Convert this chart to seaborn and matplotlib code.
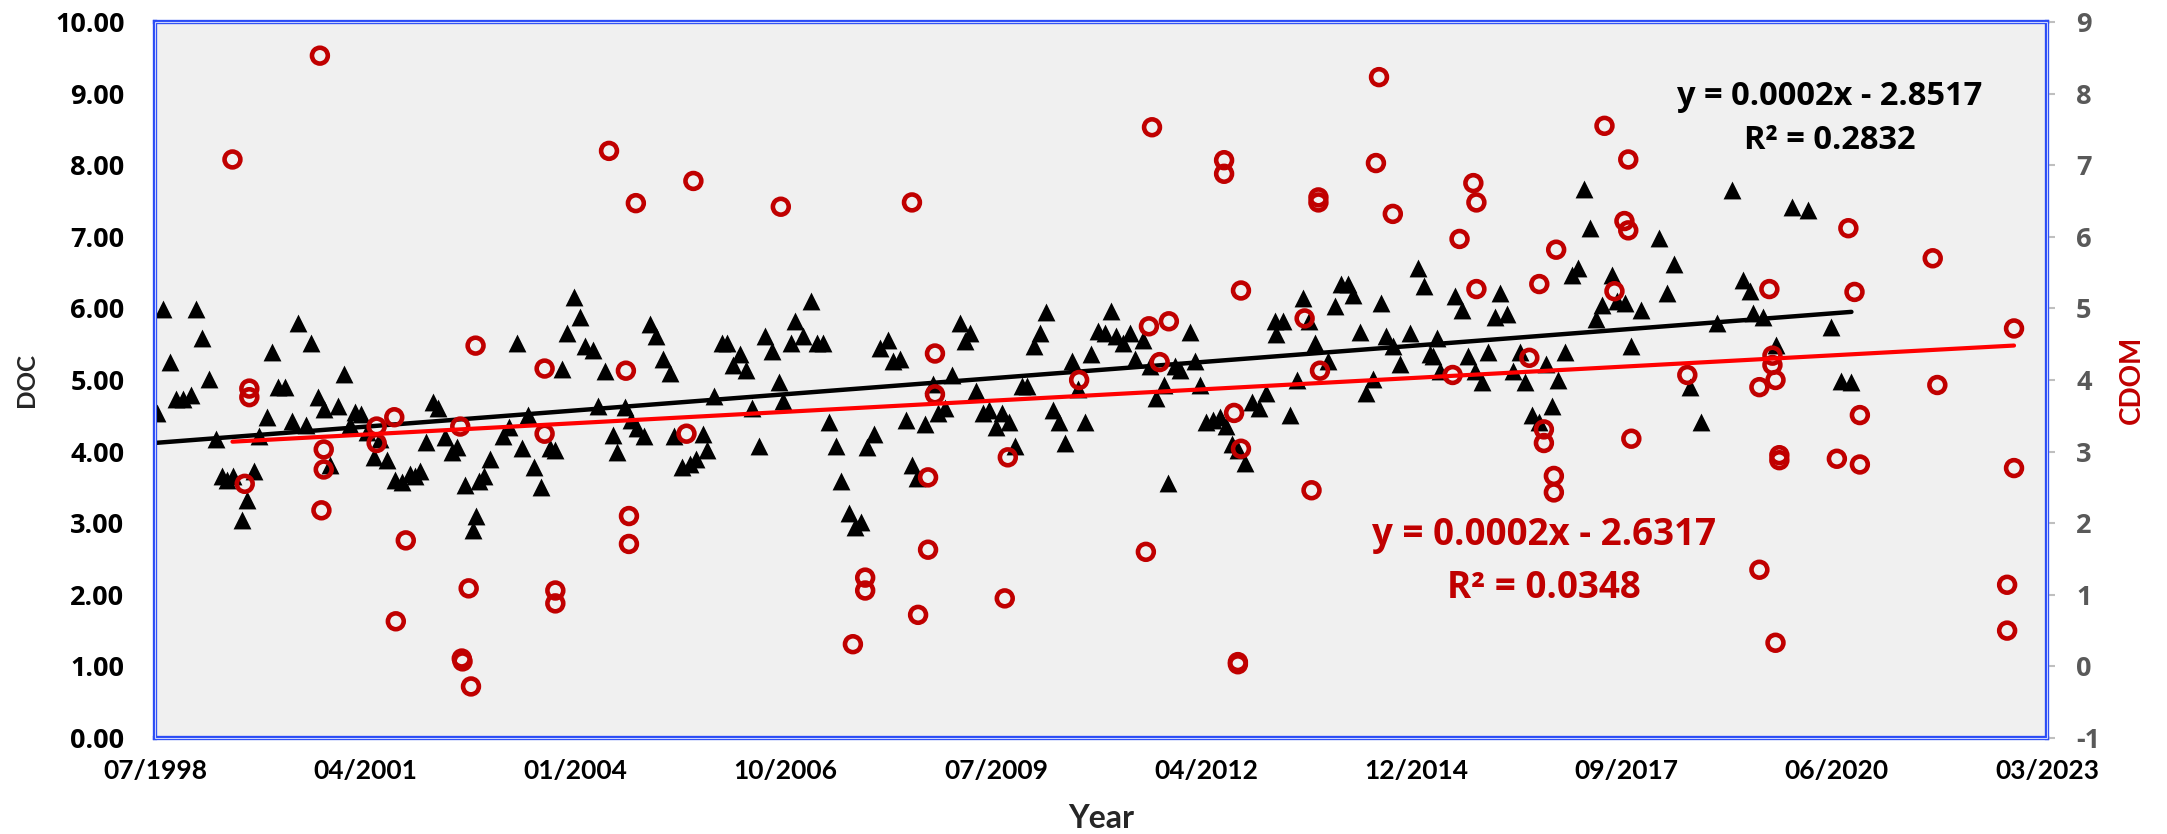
import numpy as np
import pandas as pd
import matplotlib
matplotlib.use("Agg")
import matplotlib.pyplot as plt
import seaborn as sns
from matplotlib import font_manager
from matplotlib.patches import Rectangle

# ---------------------------------------------------------------- data
# DOC samples (decimal year, concentration)
doc_year = [
    1998.52, 1998.61, 1998.70, 1998.78, 1998.87, 1998.97, 1999.03, 1999.11, 1999.21, 1999.29,
    1999.37, 1999.44, 1999.52, 1999.64, 1999.70, 1999.79, 1999.86, 1999.96, 2000.03, 2000.11,
    2000.20, 2000.28, 2000.36, 2000.47, 2000.53, 2000.62, 2000.70, 2000.78, 2000.88, 2000.96,
    2001.04, 2001.11, 2001.19, 2001.26, 2001.36, 2001.43, 2001.53, 2001.63, 2001.72, 2001.82,
    2001.89, 2001.96, 2002.04, 2002.12, 2002.19, 2002.28, 2002.37, 2002.44, 2002.54, 2002.64,
    2002.69, 2002.72,
    2002.79, 2002.87, 2003.04, 2003.12, 2003.22, 2003.29, 2003.37, 2003.44, 2003.53, 2003.65,
    2003.72, 2003.81, 2003.87, 2003.96, 2004.04, 2004.11, 2004.21, 2004.28, 2004.37, 2004.47,
    2004.53, 2004.63, 2004.71, 2004.78, 2004.88, 2004.95, 2005.03, 2005.12, 2005.21, 2005.27,
    2005.37, 2005.47, 2005.56, 2005.65, 2005.70, 2005.79, 2005.89, 2005.96, 2006.04, 2006.13,
    2006.21, 2006.28, 2006.37, 2006.46, 2006.54, 2006.63, 2006.69, 2006.79, 2006.84,
    2006.95, 2007.05, 2007.13, 2007.21, 2007.29, 2007.38, 2007.45, 2007.55, 2007.63, 2007.70,
    2007.79, 2007.87, 2007.95, 2008.06, 2008.12, 2008.21, 2008.29, 2008.37, 2008.43, 2008.54,
    2008.65, 2008.71, 2008.80, 2008.89, 2008.99, 2009.06, 2009.13, 2009.21, 2009.29, 2009.38,
    2009.47, 2009.54, 2009.63, 2009.71, 2009.80, 2009.87, 2009.96, 2010.04, 2010.12, 2010.21,
    2010.29, 2010.37, 2010.46, 2010.54, 2010.62, 2010.71, 2010.80, 2010.89, 2010.96, 2011.03,
    2011.12, 2011.21, 2011.28, 2011.38, 2011.47, 2011.55, 2011.65, 2011.71, 2011.80, 2011.86,
    2012.00, 2012.06, 2012.12, 2012.20, 2012.30, 2012.39, 2012.46, 2012.54, 2012.62, 2012.71,
    2012.80, 2012.90, 2012.99, 2013.10, 2013.12, 2013.21, 2013.30, 2013.39, 2013.47, 2013.55,
    2013.62, 2013.80, 2013.89, 2013.97, 2014.05, 2014.12, 2014.21, 2014.29, 2014.38, 2014.48,
    2014.55, 2014.64, 2014.73, 2014.86, 2014.97, 2015.05, 2015.12, 2015.21,
    2015.17, 2015.25, 2015.45, 2015.54, 2015.62, 2015.71, 2015.80, 2015.88, 2015.97, 2016.04,
    2016.13, 2016.21, 2016.30, 2016.36, 2016.45, 2016.54, 2016.64, 2016.71, 2016.80, 2016.88,
    2016.97, 2017.06, 2017.13, 2017.21, 2017.29, 2017.37, 2017.50, 2017.56, 2017.67, 2017.74,
    2017.88, 2018.11, 2018.21, 2018.30, 2018.51, 2018.66, 2018.87, 2019.06, 2019.21, 2019.34,
    2019.30, 2019.47, 2019.63, 2019.84, 2020.06, 2020.36, 2020.49, 2020.62,
]
doc_value = [
    4.54, 5.99, 5.25, 4.73, 4.73, 4.79, 5.99, 5.59, 5.01, 4.18,
    3.66, 3.61, 3.66, 3.04, 3.33, 3.73, 4.22, 4.49, 5.39, 4.90,
    4.90, 4.43, 5.80, 4.37, 5.52, 4.76, 4.59, 3.81, 4.64, 5.08,
    4.37, 4.56, 4.53, 4.28, 3.92, 4.18, 3.88, 3.61, 3.58, 3.69,
    3.66, 3.73, 4.14, 4.69, 4.61, 4.20, 4.00, 4.07, 3.53, 2.90,
    3.10, 3.59,
    3.66, 3.89, 4.22, 4.35, 5.52, 4.05, 4.51, 3.79, 3.50, 4.05,
    4.02, 5.15, 5.65, 6.16, 5.88, 5.47, 5.42, 4.64, 5.12, 4.23,
    3.99, 4.62, 4.44, 4.33, 4.22, 5.78, 5.62, 5.29, 5.10, 4.22,
    3.79, 3.82, 3.90, 4.25, 4.02, 4.78, 5.52, 5.51, 5.21, 5.36,
    5.14, 4.61, 4.08, 5.61, 5.41, 4.97, 4.71, 5.52, 5.82,
    5.62, 6.11, 5.51, 5.51, 4.41, 4.08, 3.59, 3.14, 2.94, 3.01,
    4.07, 4.25, 5.44, 5.56, 5.27, 5.29, 4.44, 3.81, 3.63, 4.38,
    4.95, 4.54, 4.61, 5.07, 5.80, 5.54, 5.65, 4.84, 4.54, 4.58,
    4.35, 4.54, 4.41, 4.08, 4.92, 4.92, 5.47, 5.65, 5.95, 4.58,
    4.42, 4.12, 5.26, 4.87, 4.42, 5.36, 5.69, 5.65, 5.97, 5.62,
    5.52, 5.65, 5.29, 5.56, 5.20, 4.75, 4.93, 3.56, 5.20, 5.14,
    5.67, 5.27, 4.93, 4.41, 4.44, 4.48, 4.36, 4.10, 4.02, 3.84,
    4.69, 4.61, 4.82, 5.82, 5.64, 5.82, 4.51, 5.00, 6.14, 5.82,
    5.52, 5.26, 6.03, 6.34, 6.34, 6.19, 5.67, 4.82, 5.01, 6.08,
    5.62, 5.47, 5.23, 5.65, 6.57, 6.31, 5.37, 5.59,
    5.33, 5.13, 6.18, 5.98, 5.33, 5.13, 4.97, 5.39, 5.88, 6.21,
    5.92, 5.13, 5.39, 4.97, 4.51, 4.41, 5.23, 4.64, 5.00, 5.39,
    6.47, 6.57, 7.67, 7.12, 5.85, 6.05, 6.47, 6.11, 6.08, 5.47,
    5.98, 6.99, 6.21, 6.62, 4.90, 4.41, 5.80, 7.65, 6.39, 5.94,
    6.24, 5.88, 5.49, 7.42, 7.37, 5.74, 4.99, 4.97,
]

# CDOM samples (decimal year, absorbance)
cdom_year = [
    1999.51, 1999.67, 1999.73, 1999.73, 2000.65, 2000.67, 2000.70, 2000.70, 2001.39, 2001.39,
    2001.62, 2001.64, 2001.77, 2002.48, 2002.50, 2002.51, 2002.59, 2002.62, 2002.68, 2003.58,
    2003.58, 2003.72, 2003.72, 2004.42, 2004.64, 2004.68, 2004.68, 2004.77, 2005.43, 2005.52,
    2006.66, 2007.60, 2007.76, 2007.76, 2008.37, 2008.45, 2008.58, 2008.58, 2008.67, 2008.67,
    2009.58, 2009.62, 2010.55, 2011.42, 2011.46, 2011.50, 2011.60, 2011.72, 2012.44, 2012.44,
    2012.57, 2012.62, 2012.62, 2012.66, 2012.66, 2013.49, 2013.58, 2013.67, 2013.67, 2013.69,
    2014.42, 2014.46, 2014.64, 2015.42, 2015.51, 2015.69, 2015.73, 2015.73, 2016.42, 2016.55,
    2016.61, 2016.61, 2016.74, 2016.74, 2016.77, 2017.40, 2017.53, 2017.66, 2017.71, 2017.71,
    2017.75, 2018.48, 2019.42, 2019.42, 2019.55, 2019.59, 2019.59, 2019.63, 2019.63, 2019.68,
    2019.68, 2020.43, 2020.58, 2020.66, 2020.73, 2020.73, 2021.68, 2021.74, 2022.65, 2022.65,
    2022.74, 2022.74,
]
cdom_value = [
    7.08, 2.55, 3.88, 3.76, 8.53, 2.18, 3.03, 2.75, 3.35, 3.12,
    3.48, 0.63, 1.76, 3.35, 0.11, 0.07, 1.09, -0.28, 4.48, 4.16,
    3.25, 1.06, 0.88, 7.20, 4.13, 2.10, 1.71, 6.47, 3.25, 6.78,
    6.42, 0.31, 1.24, 1.06, 6.48, 0.72, 2.64, 1.63, 4.37, 3.80,
    0.95, 2.92, 4.00, 1.60, 4.75, 7.53, 4.25, 4.82, 7.07, 6.88,
    3.54, 0.06, 0.03, 5.25, 3.04, 4.86, 2.46, 6.55, 6.48, 4.13,
    7.03, 8.23, 6.32, 4.07, 5.97, 6.75, 6.48, 5.27, 4.31, 5.34,
    3.31, 3.12, 2.66, 2.43, 5.82, 7.55, 5.24, 6.22, 7.08, 6.09,
    3.18, 4.07, 3.90, 1.35, 5.27, 4.34, 4.21, 4.00, 0.33, 2.95,
    2.88, 2.90, 6.12, 5.23, 3.51, 2.82, 5.70, 3.93, 1.14, 0.50,
    4.72, 2.77,
]

x_tick_labels = ["07/1998", "04/2001", "01/2004", "10/2006", "07/2009",
                 "04/2012", "12/2014", "09/2017", "06/2020", "03/2023"]
x_start, x_end = 1998.5, 2023.17

doc_fit_text = ["y = 0.0002x - 2.8517", "R\u00b2 = 0.2832"]
cdom_fit_text = ["y = 0.0002x - 2.6317", "R\u00b2 = 0.0348"]

# ---------------------------------------------------------------- style
def pick_font(*names):
    available = {f.name for f in font_manager.fontManager.ttflist}
    for name in names:
        if name in available:
            return name
    return "DejaVu Sans"

num_font = pick_font("Open Sans", "Roboto", "Noto Sans")
label_font = pick_font("Lato", "Open Sans")

sns.set_theme(style="white")
plt.rcParams["font.family"] = [num_font, "DejaVu Sans"]

DARK_RED = "#C00000"
BORDER = "#2A4BF5"

W, H = 2167, 834
fig = plt.figure(figsize=(W / 100, H / 100), dpi=100)
left, right, top, bottom = 155, 2047, 22, 738
ax = fig.add_axes([left / W, 1 - bottom / H, (right - left) / W, (bottom - top) / H])
ax.set_facecolor("#F0F0F0")
ax2 = ax.twinx()
ax2.patch.set_visible(False)

doc_df = pd.DataFrame({"year": doc_year, "DOC": doc_value})
cdom_df = pd.DataFrame({"year": cdom_year, "CDOM": cdom_value})

# DOC: filled black triangles + linear trend
sns.scatterplot(data=doc_df, x="year", y="DOC", marker="^", s=165,
                color="black", linewidth=0, ax=ax, zorder=3, legend=False)
sns.regplot(data=doc_df, x="year", y="DOC", scatter=False, ci=None, truncate=True,
            color="black", line_kws=dict(lw=3.2, zorder=4), ax=ax)

# CDOM: hollow dark-red rings + linear trend on the secondary axis
sns.scatterplot(data=cdom_df, x="year", y="CDOM", marker="o", s=130,
                color=DARK_RED, ax=ax2, zorder=3, legend=False)
rings = ax2.collections[-1]
rings.set_facecolor("none")
rings.set_edgecolor(DARK_RED)
rings.set_linewidth(3.3)
sns.regplot(data=cdom_df, x="year", y="CDOM", scatter=False, ci=None, truncate=True,
            color="#FF0000", line_kws=dict(lw=3.0, zorder=4), ax=ax2)

# ---------------------------------------------------------------- axes
ax.set_xlim(x_start, x_end)
ax.set_xticks(np.linspace(x_start, x_end, len(x_tick_labels)))
ax.set_xticklabels(x_tick_labels, fontfamily=label_font, fontweight="bold", fontsize=19)
ax.set_ylim(0, 10)
doc_ticks = np.arange(0, 11)
ax.set_yticks(doc_ticks)
ax.set_yticklabels([f"{v:.2f}" for v in doc_ticks], fontweight="bold", fontsize=19.5)
ax.tick_params(axis="y", length=0, pad=22, colors="black")
ax.tick_params(axis="x", length=0, pad=15, colors="black")

ax2.set_ylim(-1, 9)
cdom_ticks = np.arange(-1, 10)
ax2.set_yticks(cdom_ticks)
ax2.set_yticklabels([str(v) for v in cdom_ticks], fontweight="bold", fontsize=19.5)
ax2.tick_params(axis="y", length=6, width=1.5, color="#BFBFBF",
                labelcolor="#595959", pad=15, right=True)

ax.set_xlabel("Year", fontfamily=label_font, fontweight="bold", fontsize=23)
ax.xaxis.set_label_coords(0.5, -0.112)
ax.xaxis.label.set_va("center")
ax.set_ylabel("DOC", fontfamily=label_font, fontweight="bold", fontsize=17.5)
ax.yaxis.set_label_coords(-0.0677, 0.5)
ax.yaxis.label.set_va("center")
ax2.set_ylabel("CDOM", fontfamily=label_font, fontweight="bold", fontsize=20, color=DARK_RED)
ax2.yaxis.set_label_coords(1.045, 0.5)
ax2.yaxis.label.set_va("center")

ax.grid(False)
ax2.grid(False)
# double blue frame: wide blue spine with a thin pale line through its middle
for a in (ax, ax2):
    for sp in a.spines.values():
        sp.set_visible(True)
        sp.set_color(BORDER)
        sp.set_linewidth(3.0)
ax2.add_patch(Rectangle((0, 0), 1, 1, transform=ax2.transAxes, fill=False,
                        edgecolor="#C9D3FF", linewidth=0.8, clip_on=False, zorder=10))

# trend equations
for i, line in enumerate(doc_fit_text):
    ax2.text(0.885, 0.896 - 0.062 * i, line, transform=ax2.transAxes, ha="center",
             va="center", fontsize=23.5, fontweight="bold", color="black", zorder=6)
for i, line in enumerate(cdom_fit_text):
    ax2.text(0.734, 0.2835 - 0.074 * i, line, transform=ax2.transAxes, ha="center",
             va="center", fontsize=26.5, fontweight="bold", color=DARK_RED, zorder=6)

fig.savefig("out.png", dpi=100, facecolor="white")
